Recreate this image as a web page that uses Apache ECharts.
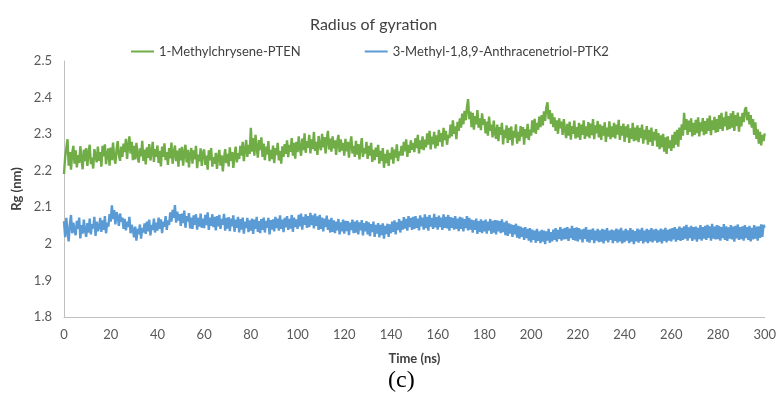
<!DOCTYPE html>
<html>
<head>
<meta charset="utf-8">
<script src="https://cdn.jsdelivr.net/npm/echarts@6/dist/echarts.min.js"></script>
<style>
html,body{margin:0;padding:0;background:#fff;}
#chart{width:779px;height:402px;}
</style>
</head>
<body>
<div id="chart"></div>
<script>
const titleText = 'Radius of gyration';
const seriesNames = ['1-Methylchrysene-PTEN', '3-Methyl-1,8,9-Anthracenetriol-PTK2'];
const xTicks = [0, 20, 40, 60, 80, 100, 120, 140, 160, 180, 200, 220, 240, 260, 280, 300];
const yTicks = [1.8, 1.9, 2.0, 2.1, 2.2, 2.3, 2.4, 2.5];
const timeStepNs = 0.5;

// Rg (nm), one value every 0.5 ns, 0 to 300 ns
const rgPTEN = [
2.191,2.238,2.262,2.286,2.214,2.251,2.203,2.247,2.268,2.219,
2.256,2.209,2.243,2.221,2.267,2.231,2.204,2.258,2.226,2.262,
2.213,2.249,2.271,2.218,2.236,2.206,2.259,2.242,2.223,2.266,
2.227,2.251,2.211,2.268,2.239,2.272,2.218,2.246,2.261,2.214,
2.263,2.229,2.277,2.236,2.219,2.258,2.281,2.242,2.227,2.266,
2.238,2.274,2.251,2.287,2.232,2.269,2.294,2.247,2.279,2.229,
2.268,2.231,2.276,2.243,2.222,2.261,2.239,2.282,2.227,2.258,
2.217,2.264,2.235,2.273,2.228,2.251,2.279,2.224,2.259,2.238,
2.269,2.221,2.254,2.212,2.266,2.238,2.275,2.229,2.251,2.216,
2.262,2.234,2.277,2.219,2.248,2.269,2.226,2.255,2.211,2.261,
2.228,2.265,2.214,2.249,2.271,2.223,2.257,2.209,2.246,2.262,
2.219,2.256,2.231,2.268,2.207,2.244,2.226,2.261,2.213,2.249,
2.258,2.216,2.241,2.203,2.256,2.228,2.262,2.211,2.237,2.219,
2.249,2.205,2.238,2.257,2.214,2.242,2.198,2.233,2.259,2.221,
2.246,2.212,2.264,2.227,2.251,2.208,2.243,2.266,2.223,2.248,
2.232,2.268,2.241,2.279,2.226,2.257,2.284,2.238,2.271,2.246,
2.317,2.252,2.289,2.241,2.298,2.262,2.236,2.284,2.256,2.291,
2.238,2.274,2.229,2.266,2.244,2.281,2.226,2.257,2.232,2.269,
2.221,2.262,2.243,2.276,2.228,2.254,2.219,2.267,2.238,2.273,
2.246,2.283,2.237,2.271,2.252,2.289,2.241,2.276,2.233,2.279,
2.251,2.294,2.262,2.241,2.288,2.256,2.302,2.249,2.281,2.263,
2.298,2.247,2.286,2.259,2.306,2.254,2.279,2.243,2.295,2.268,
2.256,2.301,2.264,2.292,2.247,2.285,2.309,2.258,2.288,2.252,
2.294,2.261,2.283,2.243,2.279,2.298,2.251,2.286,2.255,2.276,
2.241,2.287,2.253,2.279,2.236,2.271,2.294,2.247,2.268,2.238,
2.282,2.244,2.273,2.231,2.266,2.289,2.238,2.262,2.247,2.279,
2.232,2.268,2.241,2.276,2.224,2.257,2.229,2.263,2.238,2.271,
2.219,2.254,2.227,2.262,2.208,2.246,2.221,2.257,2.213,2.249,
2.231,2.264,2.219,2.258,2.236,2.272,2.226,2.253,2.242,2.268,
2.241,2.279,2.253,2.286,2.238,2.271,2.249,2.283,2.257,2.276,
2.251,2.289,2.262,2.298,2.247,2.283,2.259,2.294,2.256,2.285,
2.264,2.302,2.271,2.309,2.258,2.293,2.272,2.306,2.261,2.297,
2.268,2.312,2.279,2.303,2.266,2.317,2.284,2.309,2.271,2.298,
2.289,2.326,2.294,2.338,2.301,2.321,2.286,2.334,2.309,2.343,
2.318,2.356,2.327,2.364,2.338,2.372,2.396,2.341,2.362,2.319,
2.358,2.312,2.349,2.327,2.366,2.318,2.343,2.311,2.357,2.326,
2.341,2.302,2.334,2.296,2.348,2.309,2.326,2.291,2.337,2.304,
2.287,2.326,2.281,2.319,2.298,2.331,2.272,2.312,2.289,2.324,
2.276,2.317,2.284,2.321,2.269,2.309,2.291,2.327,2.274,2.306,
2.281,2.322,2.293,2.319,2.271,2.314,2.289,2.328,2.284,2.312,
2.296,2.338,2.305,2.342,2.301,2.331,2.312,2.348,2.319,2.352,
2.324,2.362,2.336,2.373,2.387,2.341,2.366,2.328,2.357,2.319,
2.346,2.309,2.338,2.301,2.343,2.316,2.334,2.298,2.341,2.312,
2.289,2.328,2.296,2.334,2.285,2.322,2.301,2.337,2.288,2.319,
2.291,2.331,2.284,2.326,2.298,2.338,2.287,2.321,2.294,2.333,
2.289,2.329,2.297,2.341,2.286,2.324,2.302,2.336,2.291,2.327,
2.284,2.323,2.296,2.332,2.279,2.318,2.293,2.335,2.286,2.321,
2.292,2.331,2.288,2.326,2.299,2.339,2.284,2.322,2.296,2.329,
2.279,2.321,2.291,2.327,2.276,2.316,2.287,2.331,2.281,2.318,
2.283,2.324,2.278,2.317,2.289,2.326,2.274,2.312,2.285,2.322,
2.271,2.312,2.279,2.318,2.268,2.306,2.283,2.314,2.266,2.303,
2.259,2.297,2.264,2.301,2.252,2.291,2.246,2.294,2.261,2.283,
2.254,2.298,2.262,2.306,2.271,2.312,2.266,2.318,2.284,2.327,
2.296,2.358,2.312,2.341,2.298,2.337,2.306,2.343,2.294,2.331,
2.298,2.339,2.303,2.346,2.294,2.332,2.308,2.344,2.297,2.336,
2.301,2.343,2.309,2.351,2.297,2.338,2.312,2.347,2.304,2.341,
2.306,2.352,2.314,2.358,2.309,2.346,2.321,2.362,2.311,2.349,
2.314,2.357,2.318,2.363,2.309,2.352,2.322,2.359,2.307,2.348,
2.321,2.358,2.333,2.366,2.374,2.338,2.361,2.327,2.352,2.318,
2.341,2.298,2.332,2.287,2.313,2.274,2.306,2.269,2.298,2.281,
2.302
];

const rgPTK2 = [
2.062,2.018,2.071,2.034,2.007,2.053,2.079,2.029,2.058,2.036,
2.024,2.063,2.041,2.072,2.015,2.051,2.028,2.066,2.037,2.019,
2.057,2.031,2.069,2.026,2.054,2.042,2.074,2.022,2.061,2.035,
2.044,2.071,2.033,2.064,2.038,2.076,2.029,2.058,2.047,2.081,
2.061,2.105,2.068,2.092,2.053,2.087,2.074,2.049,2.083,2.061,
2.072,2.041,2.068,2.037,2.061,2.046,2.074,2.029,2.052,2.038,
2.018,2.047,2.009,2.041,2.026,2.053,2.014,2.044,2.031,2.056,
2.027,2.061,2.034,2.066,2.023,2.052,2.038,2.069,2.031,2.058,
2.036,2.072,2.041,2.067,2.029,2.061,2.047,2.076,2.038,2.064,
2.052,2.086,2.061,2.093,2.071,2.106,2.058,2.088,2.064,2.081,
2.049,2.083,2.057,2.091,2.044,2.076,2.061,2.084,2.042,2.072,
2.041,2.078,2.052,2.081,2.039,2.071,2.047,2.083,2.044,2.069,
2.043,2.079,2.051,2.086,2.038,2.072,2.049,2.081,2.046,2.074,
2.037,2.076,2.048,2.079,2.041,2.068,2.052,2.082,2.036,2.071,
2.042,2.073,2.035,2.069,2.048,2.078,2.033,2.066,2.044,2.074,
2.031,2.068,2.039,2.072,2.028,2.061,2.043,2.071,2.032,2.064,
2.036,2.069,2.027,2.066,2.041,2.074,2.033,2.062,2.029,2.068,
2.038,2.072,2.031,2.063,2.044,2.071,2.026,2.065,2.039,2.067,
2.034,2.074,2.043,2.069,2.036,2.078,2.041,2.066,2.032,2.071,
2.045,2.076,2.038,2.068,2.042,2.079,2.033,2.072,2.046,2.067,
2.041,2.079,2.048,2.083,2.039,2.074,2.052,2.081,2.044,2.076,
2.046,2.085,2.051,2.078,2.042,2.083,2.049,2.075,2.038,2.079,
2.041,2.072,2.034,2.069,2.046,2.077,2.038,2.066,2.031,2.071,
2.033,2.064,2.029,2.061,2.037,2.068,2.026,2.059,2.034,2.066,
2.028,2.063,2.035,2.062,2.024,2.058,2.038,2.066,2.029,2.061,
2.031,2.064,2.026,2.059,2.037,2.065,2.023,2.057,2.034,2.062,
2.026,2.059,2.021,2.054,2.032,2.061,2.019,2.052,2.028,2.057,
2.018,2.052,2.024,2.056,2.014,2.049,2.027,2.055,2.019,2.053,
2.029,2.061,2.033,2.064,2.026,2.059,2.038,2.068,2.031,2.063,
2.039,2.073,2.042,2.068,2.036,2.076,2.046,2.071,2.038,2.074,
2.041,2.076,2.044,2.069,2.037,2.078,2.048,2.072,2.039,2.081,
2.043,2.074,2.036,2.079,2.047,2.071,2.041,2.082,2.045,2.073,
2.039,2.077,2.046,2.072,2.038,2.081,2.044,2.074,2.042,2.079,
2.036,2.073,2.044,2.071,2.039,2.076,2.041,2.069,2.035,2.074,
2.041,2.072,2.034,2.068,2.043,2.076,2.037,2.071,2.039,2.066,
2.031,2.064,2.038,2.069,2.027,2.062,2.033,2.067,2.029,2.063,
2.034,2.066,2.028,2.061,2.036,2.068,2.027,2.063,2.031,2.065,
2.026,2.064,2.034,2.062,2.029,2.067,2.032,2.059,2.024,2.063,
2.022,2.056,2.028,2.053,2.019,2.051,2.026,2.055,2.017,2.049,
2.014,2.047,2.019,2.044,2.011,2.046,2.016,2.041,2.009,2.043,
2.004,2.039,2.011,2.036,2.003,2.041,2.008,2.034,2.002,2.038,
2.006,2.036,1.999,2.034,2.009,2.041,2.003,2.032,2.007,2.039,
2.011,2.043,2.006,2.038,2.014,2.046,2.009,2.041,2.012,2.044,
2.013,2.046,2.008,2.042,2.016,2.049,2.011,2.043,2.009,2.045,
2.007,2.043,2.012,2.039,2.004,2.041,2.014,2.046,2.006,2.038,
2.003,2.039,2.011,2.042,2.002,2.036,2.009,2.041,2.005,2.037,
2.006,2.041,2.001,2.038,2.009,2.043,2.004,2.036,2.011,2.039,
2.002,2.037,2.008,2.042,2.003,2.039,2.007,2.044,2.001,2.036,
2.005,2.041,2.009,2.037,2.002,2.043,2.006,2.038,1.999,2.035,
2.007,2.042,2.003,2.039,2.008,2.044,2.001,2.036,2.006,2.041,
2.002,2.038,2.007,2.043,2.004,2.039,2.009,2.041,2.003,2.037,
2.006,2.042,2.001,2.039,2.008,2.044,2.004,2.038,2.009,2.041,
2.007,2.043,2.012,2.046,2.006,2.041,2.011,2.047,2.008,2.044,
2.011,2.048,2.014,2.052,2.009,2.045,2.016,2.049,2.008,2.046,
2.012,2.047,2.006,2.044,2.013,2.051,2.009,2.046,2.014,2.049,
2.011,2.052,2.016,2.048,2.009,2.055,2.014,2.047,2.012,2.051,
2.013,2.049,2.009,2.046,2.016,2.054,2.011,2.048,2.008,2.045,
2.014,2.051,2.012,2.047,2.006,2.049,2.015,2.053,2.011,2.046,
2.013,2.048,2.009,2.051,2.016,2.046,2.011,2.049,2.007,2.044,
2.012,2.051,2.014,2.047,2.009,2.048,2.016,2.053,2.019,2.052,
2.044
];

const colors = ['#70AD47', '#5B9BD5'];
const font = 'Lato, "Open Sans", sans-serif';

function pairs(vals) {
  return vals.map((v, i) => [i * timeStepNs, v]);
}

const chart = echarts.init(document.getElementById('chart'), null, {renderer: 'canvas'});
chart.setOption({
  animation: false,
  backgroundColor: '#ffffff',
  title: [
    {text: titleText, left: 305, top: 12,
     textStyle: {fontFamily: font, fontSize: 16, fontWeight: 'normal', color: '#404040'}},
    {text: '(c)', left: 383, top: 364,
     textStyle: {fontFamily: '"Liberation Serif", serif', fontSize: 24, fontWeight: 'normal', color: '#000'}}
  ],
  legend: {
    left: 126, top: 40, itemGap: 64, itemWidth: 23, itemHeight: 2, icon: 'rect',
    textStyle: {fontFamily: font, fontSize: 13, color: '#404040'},
    data: seriesNames
  },
  grid: {left: 64, right: 13, top: 61, bottom: 85, containLabel: false},
  xAxis: {
    type: 'value', min: xTicks[0], max: xTicks[xTicks.length - 1], interval: xTicks[1] - xTicks[0],
    name: 'Time (ns)', nameLocation: 'middle', nameGap: 35,
    nameTextStyle: {fontFamily: font, fontSize: 13, fontWeight: 'bold', color: '#404040'},
    axisLine: {show: true, lineStyle: {color: '#BFBFBF', width: 1}},
    axisTick: {show: false},
    splitLine: {show: false},
    axisLabel: {fontFamily: font, fontSize: 13, color: '#595959', margin: 11}
  },
  yAxis: {
    type: 'value', min: yTicks[0], max: yTicks[yTicks.length - 1], interval: 0.1,
    name: 'Rg (nm)', nameLocation: 'middle', nameGap: 30,
    nameTextStyle: {fontFamily: font, fontSize: 13, fontWeight: 'bold', color: '#404040'},
    axisLine: {show: true, lineStyle: {color: '#BFBFBF', width: 1}},
    axisTick: {show: false},
    splitLine: {show: false},
    axisLabel: {fontFamily: font, fontSize: 13, color: '#595959', margin: 12,
      formatter: v => String(+v.toFixed(1))}
  },
  series: [
    {name: seriesNames[0], type: 'line', data: pairs(rgPTEN), showSymbol: false, symbol: 'none',
     sampling: 'none', lineStyle: {color: colors[0], width: 2.4}, itemStyle: {color: colors[0]}},
    {name: seriesNames[1], type: 'line', data: pairs(rgPTK2), showSymbol: false, symbol: 'none',
     sampling: 'none', lineStyle: {color: colors[1], width: 2.4}, itemStyle: {color: colors[1]}}
  ]
});
</script>
</body>
</html>
